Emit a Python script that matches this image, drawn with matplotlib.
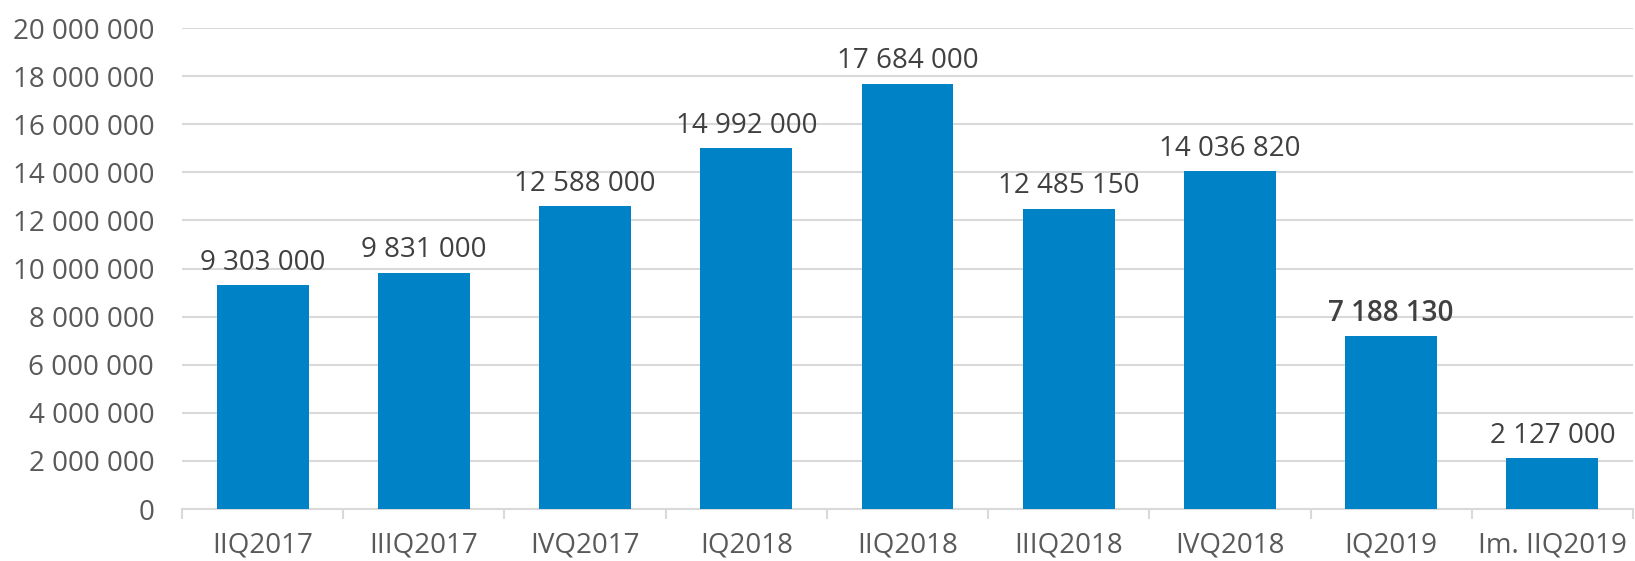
import matplotlib
matplotlib.use("Agg")
import matplotlib.pyplot as plt
from matplotlib.ticker import FuncFormatter, FixedLocator

categories = ["IIQ2017", "IIIQ2017", "IVQ2017", "IQ2018", "IIQ2018",
              "IIIQ2018", "IVQ2018", "IQ2019", "Im. IIQ2019"]
values = [9303000, 9831000, 12588000, 14992000, 17684000,
          12485150, 14036820, 7188130, 2127000]
bold_labels = [False, False, False, False, False, False, False, True, False]

plt.rcParams['font.family'] = ['Open Sans', 'DejaVu Sans']

fig = plt.figure(figsize=(16.35, 5.61), dpi=100)
ax = fig.add_axes([182/1635, 1 - 509/561, (1633 - 182)/1635, (509 - 28)/561])

x = list(range(len(categories)))
bars = ax.bar(x, values, width=0.57, color="#0083C6", zorder=3)

ax.set_xlim(-0.5, len(categories) - 0.5)
ax.set_ylim(0, 20000000)
ax.set_yticks(range(0, 20000001, 2000000))

def fmt(v, pos=None):
    return f"{int(v):,}".replace(",", " ")

ax.yaxis.set_major_formatter(FuncFormatter(fmt))
ax.grid(axis="y", color="#D9D9D9", linewidth=1.5, zorder=0)
ax.set_axisbelow(True)

for s in ["top", "right", "left"]:
    ax.spines[s].set_visible(False)
ax.spines["bottom"].set_color("#D9D9D9")
ax.spines["bottom"].set_linewidth(1.5)

ax.set_xticks(x)
ax.set_xticklabels(categories)
ax.xaxis.set_minor_locator(FixedLocator([i - 0.5 for i in range(len(categories) + 1)]))
ax.tick_params(axis="x", which="major", length=0, pad=16, labelsize=20, labelcolor="#595959")
ax.tick_params(axis="x", which="minor", length=7, width=1.5, color="#D9D9D9")
ax.tick_params(axis="y", length=0, pad=20, labelsize=20, labelcolor="#595959")

for xi, v, b in zip(x, values, bold_labels):
    ax.annotate(fmt(v), (xi, v), xytext=(0, 6), textcoords="offset points",
                ha="center", va="bottom", fontsize=20, color="#404040",
                fontweight="semibold" if b else "normal", zorder=4)

fig.savefig("out.png", dpi=100)
